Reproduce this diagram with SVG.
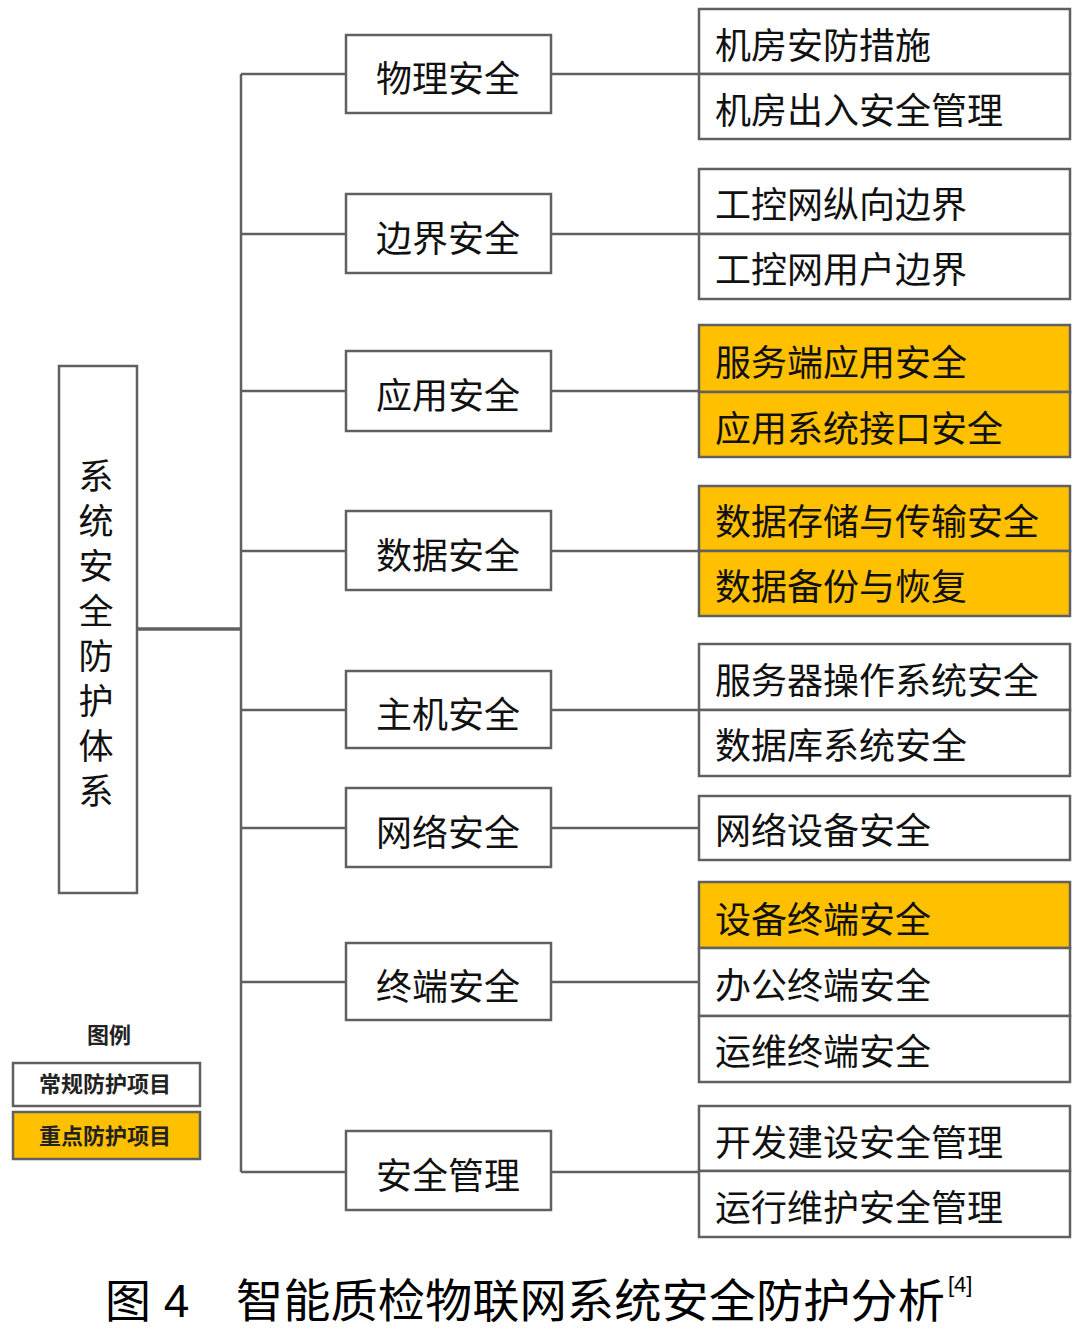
<svg xmlns="http://www.w3.org/2000/svg" width="1078" height="1337" viewBox="0 0 1078 1337">
<style>
.bx{fill:#fff;stroke:#606060;stroke-width:2.5}
.hi{fill:#FFC000;stroke:#606060;stroke-width:2.5}
.ln{stroke:#606060;stroke-width:2.5;fill:none}
.t{font-family:"Noto Sans CJK SC","Noto Sans CJK JP",sans-serif;font-size:36px;fill:#111}
.m{text-anchor:middle}
.lg{font-family:"Noto Sans CJK SC",sans-serif;font-size:22px;fill:#222;text-anchor:middle;font-weight:bold}
.cap{font-family:"Liberation Sans","Noto Sans CJK SC",sans-serif;font-size:46px;fill:#000}
</style>
<rect width="1078" height="1337" fill="#fff"/>
<g id="connectors">
<path class="ln" d="M241 74V1172"/>
<path class="ln" d="M137 629H241" style="stroke-width:3.5"/>
<path class="ln" d="M241 74H346M241 234H346M241 391H346M241 551H346M241 710H346M241 828H346M241 982H346M241 1172H346"/>
<path class="ln" d="M551 74H699M551 234H699M551 391H699M551 551H699M551 710H699M551 828H699M551 982H699M551 1172H699"/>
</g>
<g id="root">
<rect class="bx" x="59" y="366" width="78" height="527"/>
<text class="t" x="96" y="458" writing-mode="tb" style="font-size:35px;letter-spacing:10px">系统安全防护体系</text>
</g>
<g id="mid-1"><rect class="bx" x="346" y="35" width="205" height="78"/><text class="t m" x="448" y="92">物理安全</text></g>
<g id="mid-2"><rect class="bx" x="346" y="194" width="205" height="79"/><text class="t m" x="448" y="252">边界安全</text></g>
<g id="mid-3"><rect class="bx" x="346" y="351" width="205" height="80"/><text class="t m" x="448" y="409">应用安全</text></g>
<g id="mid-4"><rect class="bx" x="346" y="511" width="205" height="79"/><text class="t m" x="448" y="569">数据安全</text></g>
<g id="mid-5"><rect class="bx" x="346" y="671" width="205" height="77"/><text class="t m" x="448" y="728">主机安全</text></g>
<g id="mid-6"><rect class="bx" x="346" y="788" width="205" height="79"/><text class="t m" x="448" y="846">网络安全</text></g>
<g id="mid-7"><rect class="bx" x="346" y="943" width="205" height="77"/><text class="t m" x="448" y="1000">终端安全</text></g>
<g id="mid-8"><rect class="bx" x="346" y="1131" width="205" height="79"/><text class="t m" x="448" y="1189">安全管理</text></g>
<g id="leaf-1">
<rect class="bx" x="699" y="9" width="371" height="65"/><text class="t" x="715" y="59">机房安防措施</text>
<rect class="bx" x="699" y="74" width="371" height="65"/><text class="t" x="715" y="124">机房出入安全管理</text>
</g>
<g id="leaf-2">
<rect class="bx" x="699" y="169" width="371" height="65"/><text class="t" x="715" y="218">工控网纵向边界</text>
<rect class="bx" x="699" y="234" width="371" height="65"/><text class="t" x="715" y="283">工控网用户边界</text>
</g>
<g id="leaf-3">
<rect class="hi" x="699" y="325" width="371" height="67"/><text class="t" x="715" y="376">服务端应用安全</text>
<rect class="hi" x="699" y="392" width="371" height="65"/><text class="t" x="715" y="442">应用系统接口安全</text>
</g>
<g id="leaf-4">
<rect class="hi" x="699" y="486" width="371" height="65"/><text class="t" x="715" y="535">数据存储与传输安全</text>
<rect class="hi" x="699" y="551" width="371" height="65"/><text class="t" x="715" y="600">数据备份与恢复</text>
</g>
<g id="leaf-5">
<rect class="bx" x="699" y="644" width="371" height="66"/><text class="t" x="715" y="694">服务器操作系统安全</text>
<rect class="bx" x="699" y="710" width="371" height="66"/><text class="t" x="715" y="759">数据库系统安全</text>
</g>
<g id="leaf-6">
<rect class="bx" x="699" y="796" width="371" height="64"/><text class="t" x="715" y="844">网络设备安全</text>
</g>
<g id="leaf-7">
<rect class="hi" x="699" y="882" width="371" height="66"/><text class="t" x="715" y="933">设备终端安全</text>
<rect class="bx" x="699" y="948" width="371" height="68"/><text class="t" x="715" y="999">办公终端安全</text>
<rect class="bx" x="699" y="1016" width="371" height="66"/><text class="t" x="715" y="1065">运维终端安全</text>
</g>
<g id="leaf-8">
<rect class="bx" x="699" y="1106" width="371" height="65"/><text class="t" x="715" y="1156">开发建设安全管理</text>
<rect class="bx" x="699" y="1171" width="371" height="66"/><text class="t" x="715" y="1221">运行维护安全管理</text>
</g>
<g id="legend">
<text class="lg" x="109" y="1043">图例</text>
<rect class="bx" x="13" y="1063" width="187" height="43"/><text class="lg" x="105" y="1092">常规防护项目</text>
<rect class="hi" x="13" y="1112" width="187" height="47"/><text class="lg" x="105" y="1144">重点防护项目</text>
</g>
<g id="caption">
<text class="cap" x="105" y="1317">图 4</text>
<text class="cap" x="236" y="1317" textLength="709" lengthAdjust="spacingAndGlyphs">智能质检物联网系统安全防护分析</text>
<text class="cap" x="948" y="1292" style="font-size:22px">[4]</text>
</g>
</svg>
